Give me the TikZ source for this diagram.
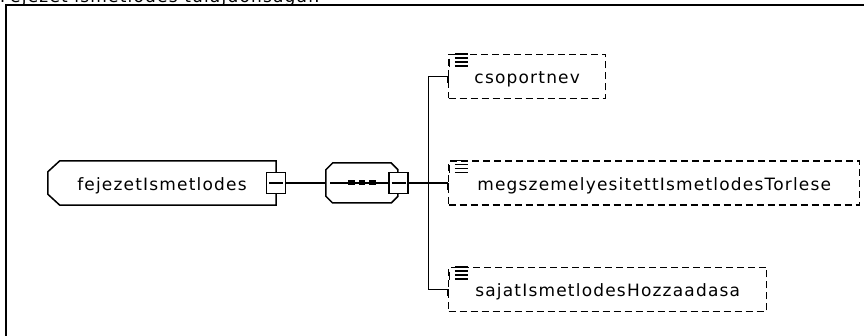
\documentclass[tikz,border=0pt]{standalone}
\usepackage{fontspec}
\usetikzlibrary{positioning,calc,shapes.misc}
\newfontfamily\lblfont{DejaVu Sans}[LetterSpace=7]
\newcommand\lblsize{\fontsize{17pt}{20pt}\selectfont}
\newcommand\lsticon[1]{%
  \foreach \yy in {0.5,4.5,8.5,12.5}
    \draw[line width=1.5pt] ([xshift=7pt,yshift=-\yy pt]#1.north west) -- ++(13,0);
  \draw[line width=1.5pt] ([xshift=1.5pt,yshift=-5pt]#1.north west) -- ++(0,8);
}

\begin{document}
\begin{tikzpicture}[
x=1pt,y=-1pt,
ln/.style={
  line width=1.5pt
  },
frm/.style={
  line width=2pt
  },
elem/.style={
  rectangle,
  minimum width=228pt,
  minimum height=44pt,
  text height=16pt,
  text depth=1pt,
  font=\lblfont\lblsize
  },
seq/.style={
  chamfered rectangle,
  chamfered rectangle xsep=12pt,
  chamfered rectangle ysep=10pt,
  draw,
  ln,
  minimum width=72pt,
  minimum height=40pt
  },
mns/.style={
  draw,
  ln,
  fill=white,
  inner sep=0pt,
  minimum width=19pt,
  minimum height=21pt,
  path picture={\draw[ln] ([xshift=2.5pt]path picture bounding box.west) -- ([xshift=-2.5pt]path picture bounding box.east);}
  },
dot/.style={
  fill,
  inner sep=0pt,
  minimum width=6.5pt,
  minimum height=5pt
  },
chld/.style={
  draw,
  ln,
  dash pattern=on 7pt off 4pt,
  minimum height=44pt,
  inner sep=0pt,
  text height=16pt,
  text depth=1pt,
  font=\lblfont\lblsize
  },
node distance=61pt
]
\useasboundingbox (0,0) rectangle (864,336);

%The frame and its title
\node[anchor=base west, inner sep=0pt, font=\lblfont\lblsize] (ttl) at (0,3)
  {Fejezet ismetlodes tulajdonsagai:};
\draw[frm] (5.5,336) -- (5.5,5.5) -- (864,5.5);

%The element and the sequence
\node[elem] (root) at (162,183)
  {fejezetIsmetlodes};
\draw[ln] ([xshift=12pt]root.north west) -- (root.north east) -- (root.south east)
  -- ([xshift=12pt]root.south west) -- ([yshift=11pt]root.south west)
  -- ([yshift=-11pt]root.north west) -- cycle;
\node[seq,right=49pt of root] (seq)
  {};
\node[dot] (d2) at (seq.center)
  {};
\node[dot,left=3.5pt of d2] (d1)
  {};
\node[dot,right=3.5pt of d2] (d3)
  {};
\node[mns] (rootm) at (root.east)
  {};
\node[mns] (seqm) at (seq.east)
  {};

%The children
\node[chld,minimum width=411pt,right=39pt of seqm] (megs)
  {megszemelyesitettIsmetlodesTorlese};
\node[chld,minimum width=157pt,above=61pt of megs.north west,anchor=south west] (cso)
  {csoportnev};
\node[chld,minimum width=318pt,below=61pt of megs.south west,anchor=north west] (saj)
  {sajatIsmetlodesHozzaadasa};

\lsticon{cso}
\lsticon{megs}
\lsticon{saj}

%Aux
\coordinate (bus) at ( $ (seqm.east)!0.5!(megs.west) $ );

\draw[ln] (rootm) -- (seq);
\draw[ln] ([xshift=5pt]seq.west) -- (seqm.west);
\draw[ln] (seqm) -- (megs);
\draw[ln] (cso.west) -| (bus) |- (saj.west);

\draw[ln] (cso.west) -- ([yshift=-7pt]cso.west);
\draw[ln] (megs.west) -- ([yshift=-7pt]megs.west);
\draw[ln] (saj.west) -- ([yshift=-7pt]saj.west);

\end{tikzpicture}
\end{document}
